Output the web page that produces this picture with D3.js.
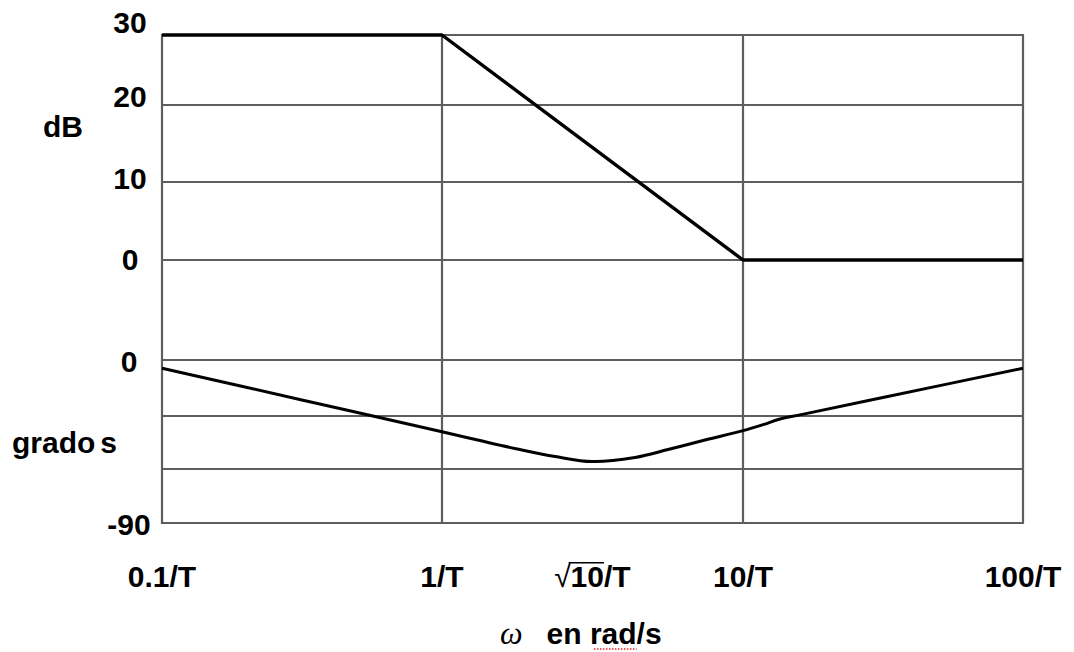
<!DOCTYPE html>
<html>
<head>
<meta charset="utf-8">
<script src="https://cdn.jsdelivr.net/npm/d3@7"></script>
<style>
  body { margin: 0; background: #fff; }
  text { font-family: Arial, "Liberation Sans", sans-serif; font-weight: bold; fill: #000; }
</style>
</head>
<body>
<svg id="bode" width="1074" height="652"></svg>
<script>
// frequency ticks (in units of 1/T)
var freqTicks = [0.1, 1, 3.16, 10, 100];
var freqLabels = ["0.1/T", "1/T", "√10/T", "10/T", "100/T"];
var gridFreqs = [0.1, 1, 10, 100];

// magnitude panel
var dbTicks = [0, 10, 20, 30];
var magFreq = [0.1, 1, 10, 100];
var magDb = [30, 30, 0, 0];

// phase panel
var degTicks = [0, -30, -60, -90];
var degLabels = [0, -90];
var phaseFreq = [0.1, 0.316, 1, 1.337, 1.816, 2.374, 3.16, 4.377, 5.721, 7.478, 10, 11.79, 13.56, 15.98, 31.6, 100];
var phaseDeg = [-4.4, -21.4, -38.9, -43.9, -49.0, -52.9, -55.8, -53.5, -48.7, -43.6, -38.3, -34.9, -31.7, -29.4, -20.1, -4.4];

var svg = d3.select("#bode");

// the original paper grid is not perfectly even, so piecewise scales
var x = d3.scaleLog().domain(gridFreqs).range([162, 442, 743, 1023]);
var yDb = d3.scaleLinear().domain(dbTicks).range([260, 182, 105, 35]);
var yDbLabel = d3.scaleLinear().domain(dbTicks).range([259, 178, 96, 22]);
var yDeg = d3.scaleLinear().domain(degTicks).range([360, 416, 469, 523]);

var grid = svg.append("g")
    .attr("stroke", "#5e5e5e")
    .attr("stroke-width", 2.2);

grid.selectAll(".hdb")
  .data(dbTicks)
  .enter().append("line")
    .attr("x1", x(0.1)).attr("x2", x(100))
    .attr("y1", function(d) { return yDb(d); })
    .attr("y2", function(d) { return yDb(d); });

grid.selectAll(".hdeg")
  .data(degTicks)
  .enter().append("line")
    .attr("x1", x(0.1)).attr("x2", x(100))
    .attr("y1", function(d) { return yDeg(d); })
    .attr("y2", function(d) { return yDeg(d); });

grid.selectAll(".v")
  .data(gridFreqs)
  .enter().append("line")
    .attr("x1", function(d) { return x(d); })
    .attr("x2", function(d) { return x(d); })
    .attr("y1", yDb(30) - 1)
    .attr("y2", yDeg(-90) + 1);

// asymptotic magnitude
var magLine = d3.line()
    .x(function(d, i) { return x(magFreq[i]); })
    .y(function(d) { return yDb(d); });
svg.append("path")
    .attr("d", magLine(magDb))
    .attr("fill", "none")
    .attr("stroke", "#000")
    .attr("stroke-width", 3.4)
    .attr("stroke-linejoin", "round");

// phase curve
var phaseLine = d3.line()
    .x(function(d, i) { return x(phaseFreq[i]); })
    .y(function(d) { return yDeg(d); })
    .curve(d3.curveCatmullRom.alpha(0.5));
svg.append("path")
    .attr("d", phaseLine(phaseDeg))
    .attr("fill", "none")
    .attr("stroke", "#000")
    .attr("stroke-width", 3);

// y labels
svg.selectAll(".dblab")
  .data(dbTicks)
  .enter().append("text")
    .attr("x", 130)
    .attr("y", function(d) { return yDbLabel(d); })
    .attr("dy", "0.36em")
    .attr("text-anchor", "middle")
    .style("font-size", "30px")
    .text(function(d) { return d; });

svg.selectAll(".deglab")
  .data(degLabels)
  .enter().append("text")
    .attr("x", 129)
    .attr("y", function(d) { return yDeg(d) + 1; })
    .attr("dy", "0.36em")
    .attr("text-anchor", "middle")
    .style("font-size", "30px")
    .text(function(d) { return d; });

svg.append("text")
    .attr("x", 63).attr("y", 126).attr("dy", "0.36em")
    .attr("text-anchor", "middle")
    .style("font-size", "30px")
    .text("dB");

var grados = svg.append("text")
    .attr("x", 12).attr("y", 453)
    .style("font-size", "30px");
grados.append("tspan").text("grado");
grados.append("tspan").attr("dx", 5).text("s");

// frequency labels
svg.selectAll(".flab")
  .data(freqTicks)
  .enter().append("text")
    .attr("x", function(d) { return x(d); })
    .attr("y", 576)
    .attr("dy", "0.36em")
    .attr("text-anchor", "middle")
    .style("font-size", "30px")
    .each(function(d, i) {
      var t = d3.select(this), lab = freqLabels[i];
      if (lab.charAt(0) === "√") {
        t.append("tspan").style("font-weight", "normal").text("√");
        t.append("tspan").attr("class", "rad").text(lab.slice(1, 3));
        t.append("tspan").text(lab.slice(3));
      } else {
        t.text(lab);
      }
    });

// overline for the radical
svg.selectAll("tspan.rad").each(function() {
  var txt = this.parentNode;
  var start = txt.getStartPositionOfChar(1).x, end = txt.getEndPositionOfChar(2).x;
  var top = txt.getExtentOfChar(1).y + 3;
  svg.append("line")
      .attr("x1", start - 2).attr("x2", end)
      .attr("y1", top).attr("y2", top)
      .attr("stroke", "#000").attr("stroke-width", 1.4);
});

// axis title
var title = svg.append("text")
    .attr("x", 500).attr("y", 644)
    .style("font-size", "30px");
title.append("tspan")
    .style("font-family", "'Liberation Serif', 'Times New Roman', serif")
    .style("font-style", "italic")
    .style("font-weight", "normal")
    .style("font-size", "32px")
    .text("ω");
title.append("tspan").attr("dx", 24).text("en rad/s");

// spell-check squiggle under "rad"
var tn = title.node();
var r0 = tn.getStartPositionOfChar(4).x, r1 = tn.getEndPositionOfChar(6).x;
svg.append("line")
    .attr("x1", r0 + 4).attr("x2", r1)
    .attr("y1", 649).attr("y2", 649)
    .attr("stroke", "#e02020")
    .attr("stroke-width", 1.6)
    .attr("stroke-dasharray", "1.5,1.5");
</script>
</body>
</html>
